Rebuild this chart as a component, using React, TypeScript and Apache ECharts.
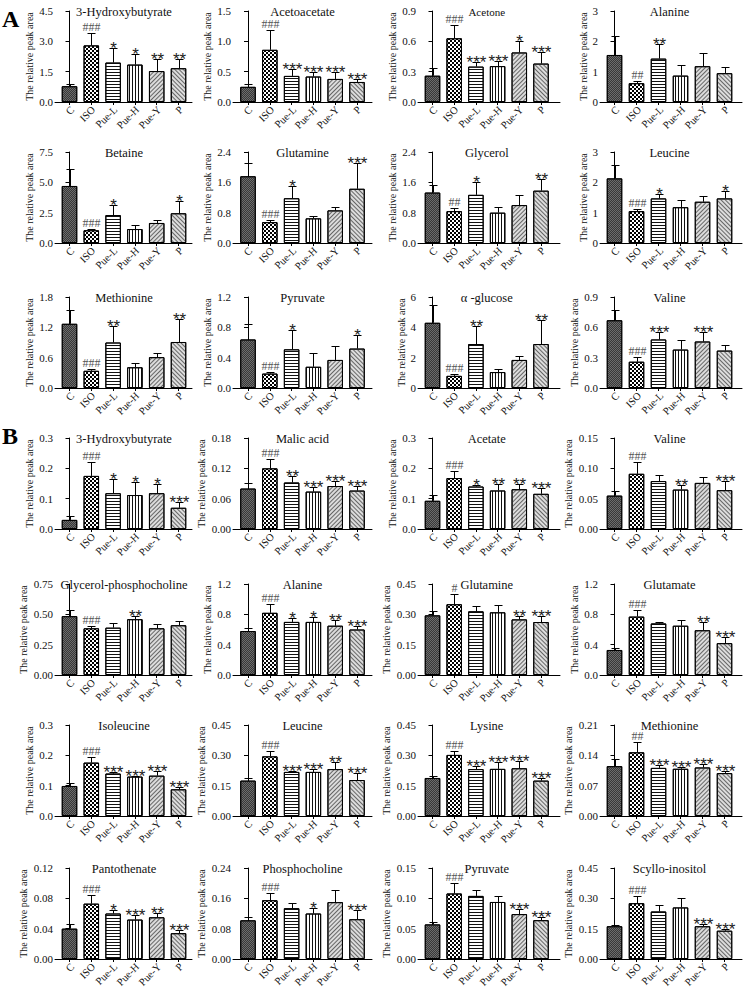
import React, { useEffect, useRef } from 'react';
import * as echarts from 'echarts';

const groups = ['C', 'ISO', 'Pue-L', 'Pue-H', 'Pue-Y', 'P'];
const yName = 'The relative peak area';

// ---------- Section A ----------
const A_3hb_mean = [0.78, 2.8, 1.95, 1.85, 1.53, 1.67];
const A_3hb_sd = [0.1, 0.63, 0.7, 0.53, 0.62, 0.48];
const A_3hb_sig = ['', '###', '*', '*', '**', '**'];

const A_acetoacetate_mean = [0.25, 0.86, 0.43, 0.42, 0.38, 0.33];
const A_acetoacetate_sd = [0.05, 0.33, 0.12, 0.07, 0.12, 0.05];
const A_acetoacetate_sig = ['', '###', '***', '***', '***', '***'];

const A_acetone_mean = [0.26, 0.63, 0.35, 0.355, 0.49, 0.38];
const A_acetone_sd = [0.08, 0.13, 0.05, 0.055, 0.11, 0.11];
const A_acetone_sig = ['', '###', '***', '***', '*', '***'];

const A_alanine_mean = [1.55, 0.62, 1.43, 0.87, 1.18, 0.95];
const A_alanine_sd = [0.63, 0.08, 0.47, 0.35, 0.45, 0.22];
const A_alanine_sig = ['', '##', '**', '', '', ''];

const A_betaine_mean = [4.7, 1.05, 2.3, 1.15, 1.65, 2.45];
const A_betaine_sd = [1.4, 0.07, 0.8, 0.3, 0.23, 1.05];
const A_betaine_sig = ['', '###', '*', '', '', '*'];

const A_glutamine_mean = [1.76, 0.55, 1.18, 0.65, 0.86, 1.43];
const A_glutamine_sd = [0.34, 0.05, 0.32, 0.07, 0.1, 0.69];
const A_glutamine_sig = ['', '###', '*', '', '', '***'];

const A_glycerol_mean = [1.33, 0.84, 1.27, 0.8, 1.0, 1.38];
const A_glycerol_sd = [0.19, 0.07, 0.35, 0.16, 0.27, 0.3];
const A_glycerol_sig = ['', '##', '*', '', '', '**'];

const A_leucine_mean = [2.13, 1.05, 1.47, 1.18, 1.36, 1.47];
const A_leucine_sd = [0.45, 0.07, 0.15, 0.24, 0.19, 0.26];
const A_leucine_sig = ['', '###', '*', '', '', '*'];

const A_methionine_mean = [1.27, 0.34, 0.9, 0.41, 0.61, 0.91];
const A_methionine_sd = [0.28, 0.04, 0.33, 0.08, 0.09, 0.46];
const A_methionine_sig = ['', '###', '**', '', '', '**'];

const A_pyruvate_mean = [0.64, 0.19, 0.51, 0.28, 0.37, 0.52];
const A_pyruvate_sd = [0.21, 0.02, 0.26, 0.18, 0.18, 0.18];
const A_pyruvate_sig = ['', '###', '*', '', '', '*'];

const A_glucose_mean = [4.3, 0.8, 2.9, 1.05, 1.85, 2.9];
const A_glucose_sd = [1.15, 0.15, 1.2, 0.23, 0.27, 1.6];
const A_glucose_sig = ['', '###', '**', '', '', '**'];

const A_valine_mean = [0.67, 0.26, 0.48, 0.38, 0.46, 0.37];
const A_valine_sd = [0.1, 0.05, 0.07, 0.09, 0.09, 0.06];
const A_valine_sig = ['', '###', '***', '', '***', ''];

// ---------- Section B ----------
const B_3hb_mean = [0.03, 0.175, 0.118, 0.112, 0.118, 0.07];
const B_3hb_sd = [0.012, 0.047, 0.047, 0.043, 0.029, 0.02];
const B_3hb_sig = ['', '###', '*', '*', '*', '***'];

const B_malic_mean = [0.08, 0.12, 0.092, 0.074, 0.085, 0.076];
const B_malic_sd = [0.011, 0.018, 0.012, 0.009, 0.009, 0.009];
const B_malic_sig = ['', '###', '**', '***', '***', '***'];

const B_acetate_mean = [0.093, 0.168, 0.14, 0.127, 0.131, 0.116];
const B_acetate_sd = [0.019, 0.022, 0.006, 0.022, 0.017, 0.019];
const B_acetate_sig = ['', '###', '*', '**', '**', '***'];

const B_valine_mean = [0.055, 0.091, 0.079, 0.065, 0.076, 0.064];
const B_valine_sd = [0.008, 0.019, 0.01, 0.007, 0.009, 0.015];
const B_valine_sig = ['', '###', '', '**', '', '***'];

const B_gpc_mean = [0.485, 0.385, 0.39, 0.46, 0.385, 0.41];
const B_gpc_sd = [0.05, 0.02, 0.035, 0.03, 0.035, 0.035];
const B_gpc_sig = ['', '###', '', '**', '', ''];

const B_alanine_mean = [0.58, 0.82, 0.7, 0.7, 0.65, 0.6];
const B_alanine_sd = [0.04, 0.12, 0.05, 0.07, 0.08, 0.04];
const B_alanine_sig = ['', '###', '*', '*', '**', '***'];

const B_glutamine_mean = [0.295, 0.35, 0.315, 0.31, 0.275, 0.262];
const B_glutamine_sd = [0.023, 0.05, 0.027, 0.038, 0.015, 0.028];
const B_glutamine_sig = ['', '#', '', '', '**', '***'];

const B_glutamate_mean = [0.33, 0.77, 0.68, 0.65, 0.59, 0.42];
const B_glutamate_sd = [0.03, 0.09, 0.02, 0.08, 0.11, 0.08];
const B_glutamate_sig = ['', '###', '', '', '**', '***'];

const B_isoleucine_mean = [0.099, 0.176, 0.14, 0.13, 0.133, 0.088];
const B_isoleucine_sd = [0.011, 0.02, 0.006, 0.003, 0.017, 0.009];
const B_isoleucine_sig = ['', '###', '***', '***', '***', '***'];

const B_leucine_mean = [0.175, 0.295, 0.218, 0.218, 0.232, 0.178];
const B_leucine_sd = [0.015, 0.027, 0.007, 0.014, 0.033, 0.034];
const B_leucine_sig = ['', '###', '***', '***', '**', '***'];

const B_lysine_mean = [0.188, 0.302, 0.232, 0.233, 0.236, 0.175];
const B_lysine_sd = [0.012, 0.02, 0.013, 0.032, 0.034, 0.015];
const B_lysine_sig = ['', '###', '***', '***', '***', '***'];

const B_methionine_mean = [0.115, 0.147, 0.111, 0.109, 0.112, 0.099];
const B_methionine_sd = [0.016, 0.023, 0.007, 0.005, 0.008, 0.006];
const B_methionine_sig = ['', '##', '***', '***', '***', '***'];

const B_pantothenate_mean = [0.04, 0.073, 0.06, 0.052, 0.055, 0.034];
const B_pantothenate_sd = [0.006, 0.011, 0.005, 0.006, 0.006, 0.004];
const B_pantothenate_sig = ['', '###', '*', '***', '**', '***'];

const B_phosphocholine_mean = [0.102, 0.155, 0.134, 0.12, 0.15, 0.105];
const B_phosphocholine_sd = [0.008, 0.018, 0.013, 0.015, 0.033, 0.023];
const B_phosphocholine_sig = ['', '###', '', '*', '', '***'];

const B_pyruvate_mean = [0.057, 0.108, 0.104, 0.094, 0.074, 0.064];
const B_pyruvate_sd = [0.004, 0.018, 0.009, 0.01, 0.009, 0.006];
const B_pyruvate_sig = ['', '###', '', '', '***', '***'];

const B_scyllo_mean = [0.162, 0.276, 0.235, 0.255, 0.162, 0.14];
const B_scyllo_sd = [0.006, 0.034, 0.03, 0.045, 0.013, 0.008];
const B_scyllo_sig = ['', '###', '', '', '***', '***'];

type Panel = {
  title: string;
  mean: number[];
  sd: number[];
  sig: string[];
  max: number;
  step: number;
  dec: number;
};

const panelsA: Panel[] = [
  { title: '3-Hydroxybutyrate', mean: A_3hb_mean, sd: A_3hb_sd, sig: A_3hb_sig, max: 4.5, step: 1.5, dec: 1 },
  { title: 'Acetoacetate', mean: A_acetoacetate_mean, sd: A_acetoacetate_sd, sig: A_acetoacetate_sig, max: 1.5, step: 0.5, dec: 1 },
  { title: 'Acetone', mean: A_acetone_mean, sd: A_acetone_sd, sig: A_acetone_sig, max: 0.9, step: 0.3, dec: 1 },
  { title: 'Alanine', mean: A_alanine_mean, sd: A_alanine_sd, sig: A_alanine_sig, max: 3, step: 1, dec: 0 },
  { title: 'Betaine', mean: A_betaine_mean, sd: A_betaine_sd, sig: A_betaine_sig, max: 7.5, step: 2.5, dec: 1 },
  { title: 'Glutamine', mean: A_glutamine_mean, sd: A_glutamine_sd, sig: A_glutamine_sig, max: 2.4, step: 0.8, dec: 1 },
  { title: 'Glycerol', mean: A_glycerol_mean, sd: A_glycerol_sd, sig: A_glycerol_sig, max: 2.4, step: 0.8, dec: 1 },
  { title: 'Leucine', mean: A_leucine_mean, sd: A_leucine_sd, sig: A_leucine_sig, max: 3, step: 1, dec: 0 },
  { title: 'Methionine', mean: A_methionine_mean, sd: A_methionine_sd, sig: A_methionine_sig, max: 1.8, step: 0.6, dec: 1 },
  { title: 'Pyruvate', mean: A_pyruvate_mean, sd: A_pyruvate_sd, sig: A_pyruvate_sig, max: 1.2, step: 0.4, dec: 1 },
  { title: 'α -glucose', mean: A_glucose_mean, sd: A_glucose_sd, sig: A_glucose_sig, max: 6, step: 2, dec: 0 },
  { title: 'Valine', mean: A_valine_mean, sd: A_valine_sd, sig: A_valine_sig, max: 0.9, step: 0.3, dec: 1 },
];

const panelsB: Panel[] = [
  { title: '3-Hydroxybutyrate', mean: B_3hb_mean, sd: B_3hb_sd, sig: B_3hb_sig, max: 0.3, step: 0.1, dec: 1 },
  { title: 'Malic acid', mean: B_malic_mean, sd: B_malic_sd, sig: B_malic_sig, max: 0.18, step: 0.06, dec: 2 },
  { title: 'Acetate', mean: B_acetate_mean, sd: B_acetate_sd, sig: B_acetate_sig, max: 0.3, step: 0.1, dec: 1 },
  { title: 'Valine', mean: B_valine_mean, sd: B_valine_sd, sig: B_valine_sig, max: 0.15, step: 0.05, dec: 2 },
  { title: 'Glycerol-phosphocholine', mean: B_gpc_mean, sd: B_gpc_sd, sig: B_gpc_sig, max: 0.75, step: 0.25, dec: 2 },
  { title: 'Alanine', mean: B_alanine_mean, sd: B_alanine_sd, sig: B_alanine_sig, max: 1.2, step: 0.4, dec: 1 },
  { title: 'Glutamine', mean: B_glutamine_mean, sd: B_glutamine_sd, sig: B_glutamine_sig, max: 0.45, step: 0.15, dec: 2 },
  { title: 'Glutamate', mean: B_glutamate_mean, sd: B_glutamate_sd, sig: B_glutamate_sig, max: 1.2, step: 0.4, dec: 1 },
  { title: 'Isoleucine', mean: B_isoleucine_mean, sd: B_isoleucine_sd, sig: B_isoleucine_sig, max: 0.3, step: 0.1, dec: 1 },
  { title: 'Leucine', mean: B_leucine_mean, sd: B_leucine_sd, sig: B_leucine_sig, max: 0.45, step: 0.15, dec: 2 },
  { title: 'Lysine', mean: B_lysine_mean, sd: B_lysine_sd, sig: B_lysine_sig, max: 0.45, step: 0.15, dec: 2 },
  { title: 'Methionine', mean: B_methionine_mean, sd: B_methionine_sd, sig: B_methionine_sig, max: 0.21, step: 0.07, dec: 2 },
  { title: 'Pantothenate', mean: B_pantothenate_mean, sd: B_pantothenate_sd, sig: B_pantothenate_sig, max: 0.12, step: 0.04, dec: 2 },
  { title: 'Phosphocholine', mean: B_phosphocholine_mean, sd: B_phosphocholine_sd, sig: B_phosphocholine_sig, max: 0.24, step: 0.08, dec: 2 },
  { title: 'Pyruvate', mean: B_pyruvate_mean, sd: B_pyruvate_sd, sig: B_pyruvate_sig, max: 0.15, step: 0.05, dec: 2 },
  { title: 'Scyllo-inositol', mean: B_scyllo_mean, sd: B_scyllo_sd, sig: B_scyllo_sig, max: 0.45, step: 0.15, dec: 2 },
];

// ---------- layout (pixels) ----------
const rowTopsA = [11, 152, 297];
const rowTopsB = [438, 584, 725, 868];
const plotH = 91;
// [y-axis x, first bar centre, last bar centre, x-axis end]
const cols = [
  [55, 69.5, 178.5, 192],
  [233, 248, 357, 372],
  [418, 432.5, 541, 560],
  [600, 614.5, 724.5, 742],
];

const SERIF = '"Liberation Serif", "Times New Roman", serif';
const SANS = '"Liberation Sans", Arial, sans-serif';

const barStyles: any[] = [
  {
    color: '#6c6c6c',
    borderColor: '#000',
    borderWidth: 1,
    decal: { symbol: 'rect', symbolSize: 1, color: '#383838', dashArrayX: [[1, 1], [0, 1, 1, 0]], dashArrayY: [1, 0] },
  },
  {
    color: '#ffffff',
    borderColor: '#000',
    borderWidth: 1,
    decal: { symbol: 'rect', symbolSize: 1, color: '#000', dashArrayX: [[2, 2], [0, 2, 2, 0]], dashArrayY: [2, 0] },
  },
  {
    color: '#ffffff',
    borderColor: '#000',
    borderWidth: 1,
    decal: { symbol: 'rect', symbolSize: 1, color: '#111', dashArrayX: [1, 0], dashArrayY: [1, 2] },
  },
  {
    color: '#ffffff',
    borderColor: '#000',
    borderWidth: 1,
    decal: { symbol: 'rect', symbolSize: 1, color: '#111', dashArrayX: [1, 2], dashArrayY: [1, 0] },
  },
  {
    color: '#dcdcdc',
    borderColor: '#000',
    borderWidth: 1,
    decal: { symbol: 'rect', symbolSize: 1, color: '#666', dashArrayX: [1, 0], dashArrayY: [1, 1.5], rotation: -Math.PI / 4 },
  },
  {
    color: '#dcdcdc',
    borderColor: '#000',
    borderWidth: 1,
    decal: { symbol: 'rect', symbolSize: 1, color: '#666', dashArrayX: [1, 0], dashArrayY: [1, 1.5], rotation: Math.PI / 4 },
  },
];

function buildOption() {
  const grid: any[] = [];
  const xAxis: any[] = [];
  const yAxis: any[] = [];
  const series: any[] = [];
  const graphic: any[] = [];

  const all: { p: Panel; top: number; col: number[] }[] = [];
  panelsA.forEach((p, k) => all.push({ p, top: rowTopsA[Math.floor(k / 4)], col: cols[k % 4] }));
  panelsB.forEach((p, k) => all.push({ p, top: rowTopsB[Math.floor(k / 4)], col: cols[k % 4] }));

  all.forEach(({ p, top, col }, k) => {
    const [ax, c0, c5, end] = col;
    const s = (c5 - c0) / 5;
    grid.push({ left: ax, top, width: end - ax, height: plotH, containLabel: false });
    xAxis.push({
      type: 'value',
      gridIndex: k,
      min: -(c0 - ax) / s,
      max: 5 + (end - c5) / s,
      splitLine: { show: false },
      axisLine: { show: true, onZero: false, lineStyle: { color: '#000', width: 1 } },
      axisTick: { show: true, customValues: [0, 1, 2, 3, 4, 5], length: 3, lineStyle: { color: '#000' } },
      axisLabel: { show: false },
    });
    const gap = p.dec === 2 ? 27 : p.dec === 1 ? 21 : 12;
    yAxis.push({
      type: 'value',
      gridIndex: k,
      min: 0,
      max: p.max,
      interval: p.step,
      splitLine: { show: false },
      axisLine: { show: true, lineStyle: { color: '#000', width: 1 } },
      axisTick: { show: true, length: 4, lineStyle: { color: '#000' } },
      axisLabel: {
        margin: 2,
        fontSize: 11,
        fontFamily: SERIF,
        color: '#111',
        formatter: (v: number) => v.toFixed(p.dec),
      },
      name: yName,
      nameLocation: 'middle',
      nameGap: gap,
      nameTextStyle: { fontSize: 10, fontFamily: SERIF, color: '#111' },
    });
    series.push({
      type: 'bar',
      xAxisIndex: k,
      yAxisIndex: k,
      barWidth: 15.5,
      data: p.mean.map((m, i) => ({ value: [i, m], itemStyle: barStyles[i] })),
    });
    const sig = p.sig;
    series.push({
      type: 'custom',
      xAxisIndex: k,
      yAxisIndex: k,
      z: 5,
      clip: false,
      data: p.mean.map((m, i) => [i, m, p.sd[i]]),
      renderItem: (_params: any, api: any) => {
        const i = api.value(0);
        const m = api.value(1);
        const e = api.value(2);
        const b = api.coord([i, m]);
        const t = api.coord([i, m + e]);
        const z0 = api.coord([i, 0]);
        const x = Math.round(b[0]) + 0.5;
        const yt = Math.round(t[1]) + 0.5;
        const children: any[] = [
          { type: 'line', shape: { x1: x, y1: b[1], x2: x, y2: yt }, style: { stroke: '#000', lineWidth: 1 } },
          { type: 'line', shape: { x1: x - 4, y1: yt, x2: x + 4, y2: yt }, style: { stroke: '#000', lineWidth: 1 } },
          {
            type: 'text',
            x: x + 2,
            y: z0[1] + 6,
            rotation: Math.PI / 4,
            style: {
              text: groups[i],
              align: 'right',
              verticalAlign: 'middle',
              textAlign: 'right',
              textVerticalAlign: 'middle',
              fontSize: 10.5,
              fontFamily: SERIF,
              fill: '#111',
            },
          },
        ];
        const str = sig[i];
        if (str) {
          const isHash = str.charAt(0) === '#';
          children.push({
            type: 'text',
            x,
            y: isHash ? yt - 6.5 : yt,
            style: {
              text: str,
              align: 'center',
              verticalAlign: 'middle',
              textAlign: 'center',
              textVerticalAlign: 'middle',
              fontSize: isHash ? 12 : 17,
              fontFamily: isHash ? SERIF : SANS,
              fill: isHash ? '#555' : '#222',
            },
          });
        }
        return { type: 'group', children };
      },
    });
    graphic.push({
      type: 'text',
      x: (c0 + c5) / 2,
      y: top + 1,
      style: {
        text: p.title,
        align: 'center',
        verticalAlign: 'middle',
        textAlign: 'center',
        textVerticalAlign: 'middle',
        fontSize: p.title === 'Acetone' ? 11 : 12.5,
        fontFamily: SERIF,
        fill: '#111',
      },
    });
  });

  graphic.push({
    type: 'text',
    x: 2,
    y: 7,
    style: { text: 'A', fontSize: 24, fontWeight: 'bold', fontFamily: SERIF, fill: '#000' },
  });
  graphic.push({
    type: 'text',
    x: 2,
    y: 424,
    style: { text: 'B', fontSize: 24, fontWeight: 'bold', fontFamily: SERIF, fill: '#000' },
  });

  return {
    animation: false,
    backgroundColor: '#ffffff',
    grid,
    xAxis,
    yAxis,
    series,
    graphic,
  };
}

export default function App() {
  const ref = useRef<HTMLDivElement>(null);
  useEffect(() => {
    if (!ref.current) return;
    const chart = echarts.init(ref.current, undefined, { renderer: 'svg' });
    chart.setOption(buildOption() as any);
    return () => chart.dispose();
  }, []);
  return (
    <div
      ref={ref}
      style={{ position: 'absolute', left: 0, top: 0, width: 743, height: 992, background: '#fff' }}
    />
  );
}
